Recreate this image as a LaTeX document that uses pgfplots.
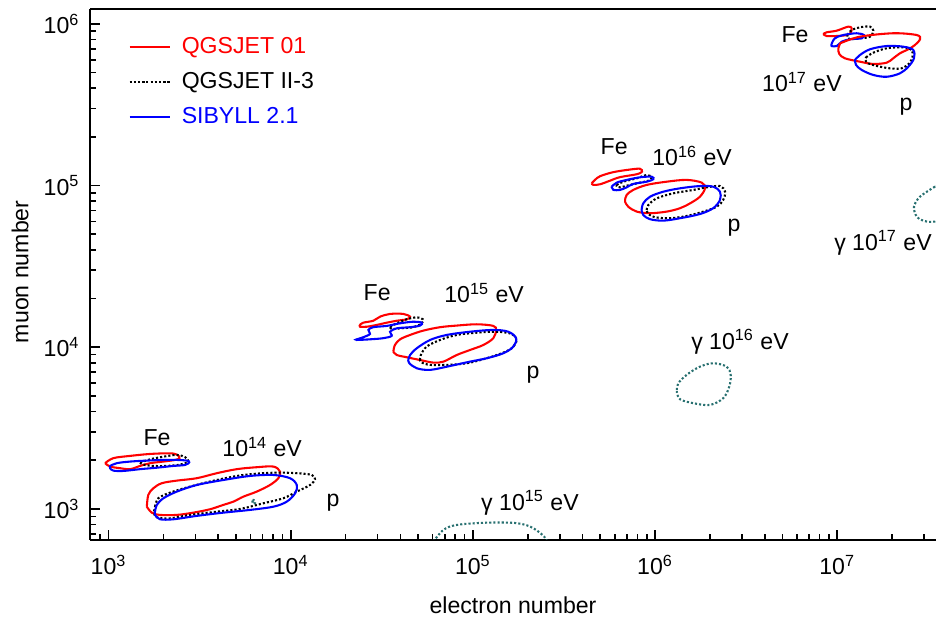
\documentclass[border=0pt]{standalone}
\usepackage{fontspec}
\setmainfont{Liberation Sans}
\usepackage{pgfplots}
\pgfplotsset{compat=1.18}
\definecolor{qred}{RGB}{255,0,0}
\definecolor{qblue}{RGB}{0,0,255}
\definecolor{gteal}{RGB}{40,112,112}
\pgfplotsset{
  redc/.style={qred, line width=0.9pt, smooth, tension=0.55},
  bluec/.style={qblue, line width=0.9pt, smooth, tension=0.55},
  blackc/.style={black, line width=0.9pt, dash pattern=on 0.9pt off 0.9pt, smooth, tension=0.55},
  gamc/.style={gteal, line width=0.9pt, dash pattern=on 0.9pt off 0.9pt, smooth, tension=0.55},
}
% contours are given as log10(electron number), log10(muon number)
\newcommand{\contour}[2]{\addplot[#1] table[row sep=\\, x expr={10^(\thisrow{lx})}, y expr={10^(\thisrow{ly})}] {lx ly\\ #2};}
\begin{document}
\begin{tikzpicture}
\begin{axis}[
  name=ax,
  scale only axis, width=366.3pt, height=229.9pt,
  xmode=log, ymode=log,
  xmin=790.7, xmax=3.483e7, ymin=642.7, ymax=1.236e6,
  axis x line*=box, axis y line*=left,
  xtick={1e3,1e4,1e5,1e6,1e7},
  xticklabels={10\textsuperscript{3},10\textsuperscript{4},10\textsuperscript{5},10\textsuperscript{6},10\textsuperscript{7}},
  ytick={1e3,1e4,1e5,1e6},
  yticklabels={10\textsuperscript{3},10\textsuperscript{4},10\textsuperscript{5},10\textsuperscript{6}},
  minor xtick={900,2000,3000,4000,5000,6000,7000,8000,9000,20000,30000,40000,50000,60000,70000,80000,90000,200000,300000,400000,500000,600000,700000,800000,900000,2000000,3000000,4000000,5000000,6000000,7000000,8000000,9000000,20000000,30000000},
  minor ytick={700,800,900,2000,3000,4000,5000,6000,7000,8000,9000,20000,30000,40000,50000,60000,70000,80000,90000,200000,300000,400000,500000,600000,700000,800000,900000},
  xtick pos=bottom, ytick pos=left,
  tick align=inside,
  major tick length=4.5pt, minor tick length=2.6pt,
  every tick/.style={black, line width=0.7pt},
  axis line style={line width=0.9pt},
  xticklabel style={yshift=-3pt},
  yticklabel style={xshift=-1pt},
  xlabel={electron number}, ylabel={muon number},
  xlabel style={at={(axis description cs:0.5,-0.1224)}, anchor=center},
  ylabel style={at={(axis description cs:-0.0827,0.505)}, anchor=center},
  legend style={draw=none, fill=none, at={(axis description cs:0.037,0.965)}, anchor=north west, row sep=2.6pt},
  legend cell align=left,
]
% ---- 10^14 eV, Fe
\contour{redc}{2.981 3.283\\ 3.026 3.314\\ 3.118 3.328\\ 3.228 3.340\\ 3.338 3.344\\ 3.378 3.334\\ 3.389 3.314\\ 3.365 3.303\\ 3.301 3.293\\ 3.228 3.283\\ 3.173 3.266\\ 3.118 3.246\\ 3.063 3.252\\ 3.008 3.262\\ 2.981 3.283\\}
\addlegendentry{\hspace{3pt}\textcolor{qred}{QGSJET 01}}
\contour{blackc}{3.173 3.286\\ 3.228 3.307\\ 3.301 3.323\\ 3.374 3.334\\ 3.420 3.320\\ 3.438 3.293\\ 3.392 3.274\\ 3.320 3.266\\ 3.246 3.266\\ 3.191 3.274\\ 3.173 3.286\\}
\addlegendentry{\hspace{3pt}QGSJET II-3}
\contour{bluec}{3.008 3.266\\ 3.045 3.283\\ 3.118 3.293\\ 3.210 3.299\\ 3.301 3.303\\ 3.374 3.303\\ 3.429 3.299\\ 3.443 3.289\\ 3.420 3.272\\ 3.356 3.266\\ 3.265 3.255\\ 3.173 3.246\\ 3.081 3.235\\ 3.026 3.237\\ 3.008 3.252\\ 3.008 3.266\\}
\addlegendentry{\hspace{3pt}\textcolor{qblue}{SIBYLL 2.1}}
% ---- 10^14 eV, p
\contour{redc,forget plot}{3.210 3.014\\ 3.218 3.087\\ 3.246 3.128\\ 3.292 3.159\\ 3.374 3.175\\ 3.484 3.190\\ 3.594 3.221\\ 3.704 3.246\\ 3.813 3.258\\ 3.905 3.262\\ 3.941 3.231\\ 3.932 3.190\\ 3.886 3.148\\ 3.813 3.107\\ 3.740 3.076\\ 3.685 3.045\\ 3.630 3.025\\ 3.557 2.998\\ 3.465 2.977\\ 3.374 2.963\\ 3.283 2.963\\ 3.237 2.977\\ 3.210 3.014\\}
\contour{blackc,forget plot}{3.255 3.014\\ 3.273 3.066\\ 3.338 3.101\\ 3.447 3.138\\ 3.594 3.179\\ 3.740 3.210\\ 3.905 3.224\\ 4.033 3.221\\ 4.115 3.210\\ 4.133 3.184\\ 4.106 3.148\\ 4.033 3.107\\ 3.959 3.066\\ 3.850 3.035\\ 3.722 3.000\\ 3.594 2.983\\ 3.447 2.963\\ 3.338 2.942\\ 3.265 2.949\\ 3.250 2.977\\ 3.255 3.014\\}
\contour{bluec,forget plot}{3.255 2.983\\ 3.265 3.025\\ 3.301 3.066\\ 3.374 3.107\\ 3.484 3.148\\ 3.630 3.179\\ 3.777 3.204\\ 3.905 3.210\\ 3.996 3.190\\ 4.033 3.148\\ 4.024 3.097\\ 3.978 3.045\\ 3.905 3.014\\ 3.777 2.994\\ 3.630 2.977\\ 3.484 2.957\\ 3.356 2.936\\ 3.283 2.936\\ 3.255 2.963\\ 3.255 2.983\\}
\contour{gamc,forget plot}{3.790 3.056\\ 3.801 3.053\\ 3.804 3.037\\ 3.793 3.031\\ 3.790 3.043\\ 3.790 3.056\\}
% ---- 10^15 eV, Fe
\contour{redc,forget plot}{4.380 4.138\\ 4.398 4.152\\ 4.453 4.164\\ 4.490 4.189\\ 4.545 4.206\\ 4.618 4.206\\ 4.655 4.189\\ 4.637 4.173\\ 4.582 4.164\\ 4.527 4.152\\ 4.472 4.138\\ 4.417 4.127\\ 4.380 4.127\\ 4.380 4.138\\}
\contour{blackc,forget plot}{4.545 4.127\\ 4.582 4.148\\ 4.637 4.173\\ 4.692 4.185\\ 4.725 4.173\\ 4.719 4.148\\ 4.673 4.124\\ 4.600 4.117\\ 4.554 4.113\\ 4.545 4.127\\}
\contour{bluec,forget plot}{4.362 4.049\\ 4.398 4.062\\ 4.435 4.082\\ 4.426 4.107\\ 4.453 4.124\\ 4.527 4.132\\ 4.600 4.148\\ 4.673 4.158\\ 4.719 4.152\\ 4.710 4.134\\ 4.655 4.124\\ 4.582 4.117\\ 4.545 4.096\\ 4.554 4.070\\ 4.508 4.056\\ 4.435 4.049\\ 4.362 4.045\\ 4.362 4.049\\}
% ---- 10^15 eV, p
\contour{redc,forget plot}{4.563 3.973\\ 4.572 4.014\\ 4.600 4.049\\ 4.655 4.076\\ 4.728 4.103\\ 4.820 4.124\\ 4.911 4.134\\ 5.021 4.142\\ 5.112 4.132\\ 5.127 4.107\\ 5.112 4.056\\ 5.057 4.014\\ 4.984 3.983\\ 4.911 3.952\\ 4.838 3.911\\ 4.783 3.905\\ 4.710 3.921\\ 4.637 3.938\\ 4.582 3.952\\ 4.563 3.973\\}
\contour{blackc,forget plot}{4.710 3.921\\ 4.714 3.952\\ 4.746 4.004\\ 4.820 4.045\\ 4.911 4.076\\ 5.021 4.090\\ 5.131 4.096\\ 5.213 4.082\\ 5.240 4.045\\ 5.213 3.994\\ 5.149 3.959\\ 5.057 3.926\\ 4.966 3.901\\ 4.856 3.891\\ 4.765 3.891\\ 4.719 3.905\\ 4.710 3.921\\}
\contour{bluec,forget plot}{4.645 3.921\\ 4.655 3.952\\ 4.692 3.994\\ 4.765 4.045\\ 4.856 4.076\\ 4.984 4.096\\ 5.112 4.107\\ 5.194 4.096\\ 5.237 4.056\\ 5.222 4.004\\ 5.167 3.963\\ 5.076 3.932\\ 4.984 3.911\\ 4.874 3.884\\ 4.765 3.860\\ 4.692 3.870\\ 4.651 3.901\\ 4.645 3.921\\}
% ---- 10^16 eV, Fe
\contour{redc,forget plot}{5.652 5.014\\ 5.670 5.035\\ 5.698 5.058\\ 5.771 5.083\\ 5.862 5.099\\ 5.917 5.104\\ 5.928 5.086\\ 5.899 5.070\\ 5.807 5.052\\ 5.752 5.030\\ 5.698 5.008\\ 5.661 5.004\\ 5.652 5.014\\}
\contour{blackc,forget plot}{5.789 5.004\\ 5.826 5.024\\ 5.899 5.045\\ 5.954 5.065\\ 5.981 5.051\\ 5.963 5.030\\ 5.917 5.018\\ 5.862 5.004\\ 5.807 4.989\\ 5.789 4.997\\ 5.789 5.004\\}
\contour{bluec,forget plot}{5.762 4.993\\ 5.789 5.018\\ 5.844 5.035\\ 5.917 5.051\\ 5.981 5.055\\ 5.990 5.039\\ 5.954 5.024\\ 5.880 5.010\\ 5.844 4.989\\ 5.807 4.973\\ 5.771 4.973\\ 5.762 4.989\\ 5.762 4.993\\}
% ---- 10^16 eV, p
\contour{redc,forget plot}{5.835 4.911\\ 5.844 4.942\\ 5.880 4.973\\ 5.954 5.004\\ 6.064 5.024\\ 6.173 5.035\\ 6.256 5.018\\ 6.274 4.983\\ 6.246 4.931\\ 6.192 4.890\\ 6.137 4.860\\ 6.064 4.839\\ 5.972 4.829\\ 5.899 4.839\\ 5.853 4.869\\ 5.835 4.900\\ 5.835 4.911\\}
\contour{blackc,forget plot}{5.954 4.849\\ 5.963 4.880\\ 6.009 4.921\\ 6.100 4.952\\ 6.210 4.973\\ 6.283 4.989\\ 6.356 4.997\\ 6.384 4.962\\ 6.374 4.911\\ 6.338 4.869\\ 6.265 4.839\\ 6.173 4.812\\ 6.082 4.798\\ 6.000 4.804\\ 5.963 4.824\\ 5.954 4.849\\}
\contour{bluec,forget plot}{5.926 4.849\\ 5.935 4.890\\ 5.972 4.931\\ 6.045 4.962\\ 6.137 4.983\\ 6.246 4.997\\ 6.319 4.993\\ 6.356 4.962\\ 6.356 4.911\\ 6.319 4.860\\ 6.246 4.824\\ 6.137 4.798\\ 6.045 4.783\\ 5.972 4.792\\ 5.935 4.818\\ 5.926 4.849\\}
% ---- 10^17 eV, Fe
\contour{redc,forget plot}{6.923 5.937\\ 6.942 5.948\\ 6.997 5.958\\ 7.060 5.983\\ 7.079 5.973\\ 7.074 5.946\\ 7.052 5.931\\ 6.997 5.925\\ 6.942 5.925\\ 6.923 5.937\\}
\contour{blackc,forget plot}{7.055 5.931\\ 7.079 5.962\\ 7.125 5.979\\ 7.180 5.983\\ 7.198 5.958\\ 7.180 5.921\\ 7.125 5.911\\ 7.070 5.905\\ 7.055 5.921\\ 7.055 5.931\\}
\contour{bluec,forget plot}{6.969 5.876\\ 6.987 5.911\\ 7.033 5.931\\ 7.106 5.942\\ 7.146 5.931\\ 7.134 5.911\\ 7.070 5.905\\ 7.025 5.890\\ 6.997 5.863\\ 6.969 5.863\\ 6.969 5.876\\}
% ---- 10^17 eV, p
\contour{redc,forget plot}{7.016 5.880\\ 7.125 5.921\\ 7.307 5.942\\ 7.436 5.931\\ 7.454 5.905\\ 7.426 5.869\\ 7.390 5.843\\ 7.344 5.818\\ 7.307 5.787\\ 7.271 5.760\\ 7.198 5.752\\ 7.125 5.766\\ 7.042 5.787\\ 7.011 5.814\\ 7.006 5.849\\ 7.016 5.880\\}
\contour{blackc,forget plot}{7.158 5.793\\ 7.198 5.822\\ 7.271 5.849\\ 7.362 5.855\\ 7.408 5.839\\ 7.413 5.797\\ 7.395 5.756\\ 7.353 5.725\\ 7.289 5.725\\ 7.216 5.740\\ 7.170 5.756\\ 7.154 5.777\\ 7.158 5.793\\}
\contour{bluec,forget plot}{7.097 5.777\\ 7.125 5.808\\ 7.180 5.843\\ 7.271 5.863\\ 7.362 5.859\\ 7.417 5.839\\ 7.421 5.787\\ 7.390 5.735\\ 7.344 5.694\\ 7.271 5.673\\ 7.198 5.684\\ 7.134 5.715\\ 7.103 5.746\\ 7.097 5.777\\}
% ---- gamma contours
\contour{gamc,forget plot}{4.783 2.798\\ 4.838 2.870\\ 4.911 2.901\\ 5.076 2.915\\ 5.240 2.912\\ 5.331 2.881\\ 5.405 2.804\\ 5.396 2.685\\ 5.094 2.592\\ 4.819 2.685\\ 4.783 2.798\\}
\contour{gamc,forget plot}{6.119 3.736\\ 6.127 3.777\\ 6.173 3.829\\ 6.246 3.880\\ 6.319 3.901\\ 6.393 3.880\\ 6.415 3.829\\ 6.407 3.756\\ 6.374 3.685\\ 6.301 3.643\\ 6.210 3.654\\ 6.137 3.678\\ 6.119 3.725\\ 6.119 3.736\\}
\contour{gamc,forget plot}{7.536 4.993\\ 7.454 4.931\\ 7.421 4.869\\ 7.436 4.808\\ 7.472 4.783\\ 7.536 4.777\\ 7.673 4.818\\ 7.673 4.973\\ 7.536 4.993\\}
% ---- annotations
\node at (axis cs:1845,2748) {Fe};
\node at (axis cs:6966,2415) {10\textsuperscript{14} eV};
\node at (axis cs:17060,1089) {p};
\node at (axis cs:29790,21680) {Fe};
\node at (axis cs:115100,21680) {10\textsuperscript{15} eV};
\node at (axis cs:213800,6745) {p};
\node at (axis cs:595700,173400) {Fe};
\node at (axis cs:1596000,152400) {10\textsuperscript{16} eV};
\node at (axis cs:2710000,54700) {p};
\node at (axis cs:5861000,853100) {Fe};
\node at (axis cs:6397000,437500) {10\textsuperscript{17} eV};
\node at (axis cs:23880000,306200) {p};
\node at (axis cs:205600,1089) {γ 10\textsuperscript{15} eV};
\node at (axis cs:2924000,10790) {γ 10\textsuperscript{16} eV};
\node at (axis cs:17820000,44160) {γ 10\textsuperscript{17} eV};
\end{axis}
\pgfresetboundingbox
\path ([xshift=-38.97pt,yshift=-34.2pt]ax.south west) rectangle ([yshift=3.9pt]ax.north east);
\end{tikzpicture}
\end{document}
